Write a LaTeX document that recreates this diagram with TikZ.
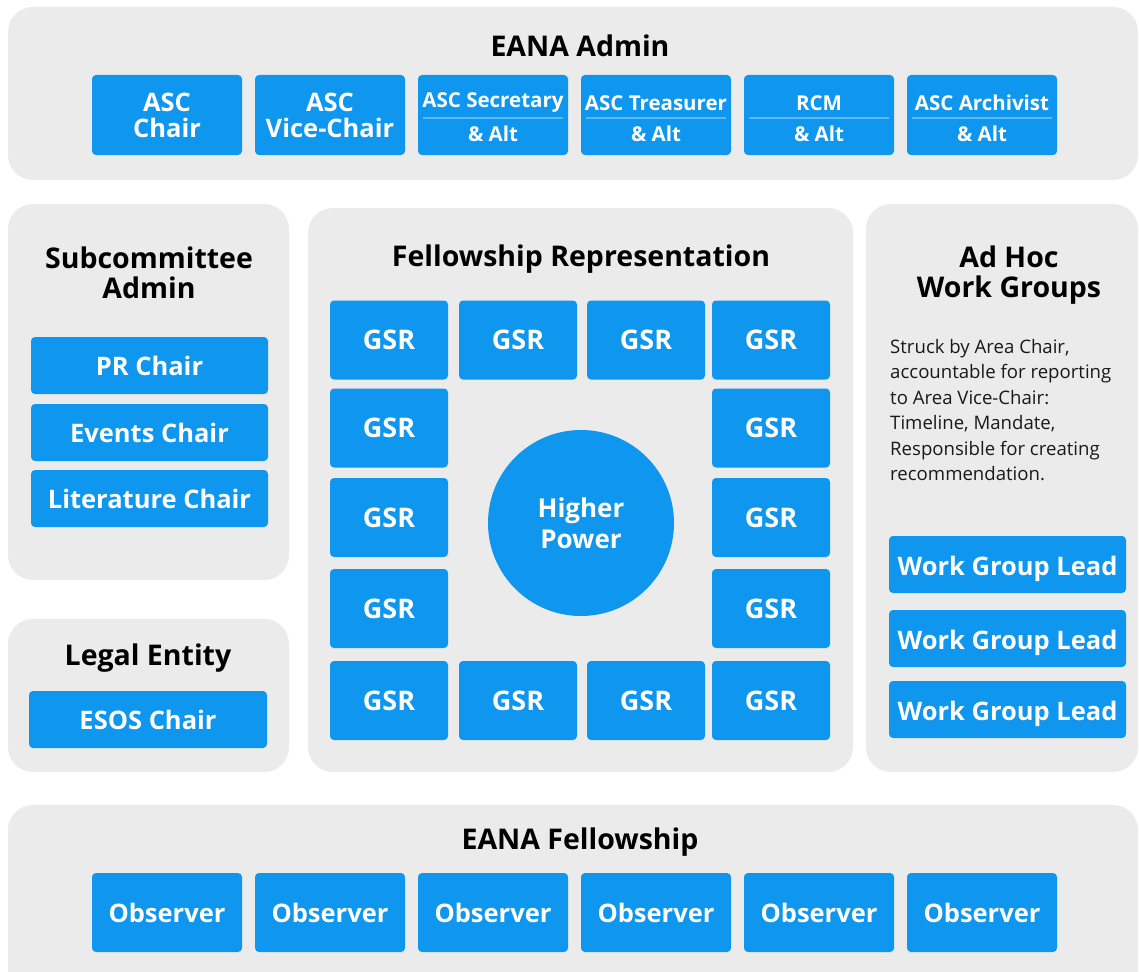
\documentclass[tikz,border=0pt]{standalone}
\usepackage{fontspec}
\setmainfont{Open Sans}
\definecolor{panelgray}{HTML}{EBEBEB}
\definecolor{boxblue}{HTML}{0F96EF}
\definecolor{divblue}{HTML}{5DB9F5}
\begin{document}
\begin{tikzpicture}[x=1pt,y=-1pt,
  panelbox/.style={fill=panelgray, rounded corners=25pt},
  bbox/.style={fill=boxblue, rounded corners=4pt, text=white, align=center, inner sep=0pt,
    font=\bfseries\fontsize{25.5}{26}\selectfont},
  abox/.style={bbox, minimum width=150pt, minimum height=80pt},
  gsr/.style={bbox, minimum width=118pt, minimum height=79pt, font=\bfseries\fontsize{27}{27}\selectfont},
  wbox/.style={bbox, minimum width=237pt, minimum height=57pt},
  wgl/.style={wbox, text height=21pt, text depth=0pt},
  smalltxt/.style={text=white, font=\bfseries\fontsize{20.5}{22}\selectfont, inner sep=0pt},
  title/.style={font=\bfseries\fontsize{28.5}{30}\selectfont, align=center, inner sep=0pt},
  divider/.style={draw=divblue, line width=1.5pt}
]
\useasboundingbox (0,0) rectangle (1139,971);
\clip (0,0) rectangle (1139,971);
\fill[white] (0,0) rectangle (1139,971);

% panels
\path[panelbox] (8,7) rectangle (1138,180);
\path[panelbox] (8,204) rectangle (289,580);
\path[panelbox] (8,619) rectangle (289,772);
\path[panelbox] (308,208) rectangle (853,772);
\path[panelbox] (866,204) rectangle (1138,772);
\path[panelbox] (8,805) rectangle (1138,1010);

% EANA Admin
\node[title] (tadmin) at (580,46) {EANA Admin};
\node[abox] (a1) at (167,115) {ASC\\Chair};
\node[abox] (a2) at (330,115) {ASC\\Vice-Chair};
\foreach \i/\x/\t in {3/493/ASC Secretary,4/656/ASC Treasurer,5/819/RCM,6/982/ASC Archivist}{
  \node[abox] (a\i) at (\x,115) {};
  \node[smalltxt] (a\i t) at (\x,103) {\t};
  \node[smalltxt] (a\i b) at (\x,134) {\& Alt};
  \draw[divider] ([xshift=5pt,yshift=-3pt]a\i.west) -- ([xshift=-5pt,yshift=-3pt]a\i.east);
}

% Subcommittee Admin
\node[title] (tsub) at (149,273) {Subcommittee\\Admin};
\node[wbox] (pr) at (149.5,365.5) {PR Chair};
\node[wbox] (ev) at (149.5,432.5) {Events Chair};
\node[wbox] (lit) at (149.5,498.5) {Literature Chair};

% Legal Entity
\node[title] (tlegal) at (148,658) {Legal Entity};
\node[wbox, minimum width=238pt] (esos) at (148,719.5) {ESOS Chair};

% Fellowship Representation
\node[title] (tfel) at (581,259) {Fellowship Representation};
\foreach \x [count=\c] in {389,518,646,771}{
  \node[gsr] (g1\c) at (\x,340) {GSR};
  \node[gsr] (g5\c) at (\x,700.5) {GSR};
}
\foreach \y [count=\r from 2] in {428,517.5,608.5}{
  \node[gsr] (g\r1) at (389,\y) {GSR};
  \node[gsr] (g\r4) at (771,\y) {GSR};
}
\node[circle, fill=boxblue, minimum size=186pt, inner sep=0pt, text=white, align=center,
  font=\bfseries\fontsize{26}{31}\selectfont] (hp) at (581,523) {Higher\\Power};

% Ad Hoc Work Groups
\node[title] (tadhoc) at (1009,275) {Ad Hoc\\Work Groups};
\node[anchor=north west, align=left, inner sep=0pt, text=black!90,
  font=\fontsize{18.6}{25.5}\selectfont] (adtxt) at (890,339) {Struck by Area Chair,\\accountable for reporting\\to Area Vice-Chair:\\Timeline, Mandate,\\Responsible for creating\\recommendation.};
\node[wgl] (w1) at (1007.5,564.5) {Work Group Lead};
\node[wgl] (w2) at (1007.5,638.5) {Work Group Lead};
\node[wgl] (w3) at (1007.5,709.5) {Work Group Lead};

% EANA Fellowship
\node[title] (tfship) at (580,842) {EANA Fellowship};
\foreach \x [count=\i] in {167,330,493,656,819,982}{
  \node[abox, minimum height=79pt] (o\i) at (\x,912.5) {Observer};
}
\end{tikzpicture}
\end{document}
